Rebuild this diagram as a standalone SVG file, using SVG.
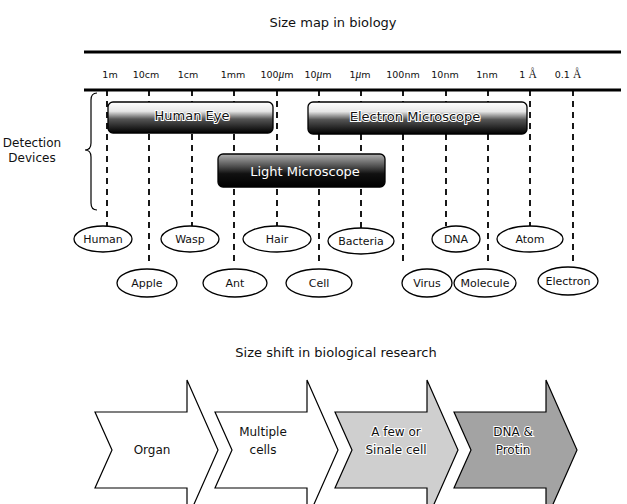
<svg xmlns="http://www.w3.org/2000/svg" width="627" height="504" viewBox="0 0 627 504">
<style>
text{font-family:"DejaVu Sans","Liberation Sans",sans-serif;fill:#111}
.title{font-size:13px;text-anchor:middle}
.scale{font-size:9.5px;text-anchor:middle}
.sym{font-family:"Liberation Serif","DejaVu Serif",serif;font-size:11.5px}
.mu{font-family:"Liberation Serif","DejaVu Serif",serif;font-style:italic;font-size:11.5px}
.axis{stroke:#000;stroke-width:3;fill:none}
.dash{stroke:#000;stroke-width:1.8;stroke-dasharray:6 5;fill:none}
.ell{fill:#fff;stroke:#000;stroke-width:1.3}
.lbl{font-size:11px;text-anchor:middle}
.box{stroke:#000;stroke-width:1.3}
.boxtxt{font-size:13px;text-anchor:middle;fill:#111;stroke:#fff;stroke-width:2;paint-order:stroke}
.boxtxtw{font-size:13px;text-anchor:middle;fill:#fff}
.arrow{stroke:#000;stroke-width:1.2}
.atxt{font-size:12px;text-anchor:middle;fill:#111;stroke:#fff;stroke-width:2;paint-order:stroke}
.side{font-size:12px;text-anchor:middle}
</style>
<defs>
<linearGradient id="gEye" x1="0" y1="0" x2="0" y2="1">
<stop offset="0" stop-color="#ffffff"/>
<stop offset="0.3" stop-color="#e6e6e6"/>
<stop offset="0.55" stop-color="#555"/>
<stop offset="1" stop-color="#000"/>
</linearGradient>
<linearGradient id="gLight" x1="0" y1="0" x2="0" y2="1">
<stop offset="0" stop-color="#b0b0b0"/>
<stop offset="0.35" stop-color="#555"/>
<stop offset="0.6" stop-color="#111"/>
<stop offset="1" stop-color="#000"/>
</linearGradient>
</defs>

<text class="title" x="333" y="27">Size map in biology</text>

<line class="axis" x1="84" y1="52" x2="621" y2="52"/>
<line class="axis" x1="84" y1="90" x2="621" y2="90"/>

<g id="scale-labels">
<text class="scale" x="110" y="78">1m</text>
<text class="scale" x="146" y="78">10cm</text>
<text class="scale" x="188" y="78">1cm</text>
<text class="scale" x="233" y="78">1mm</text>
<text class="scale" x="277" y="78">100<tspan class="mu">μ</tspan>m</text>
<text class="scale" x="318" y="78">10<tspan class="mu">μ</tspan>m</text>
<text class="scale" x="360" y="78">1<tspan class="mu">μ</tspan>m</text>
<text class="scale" x="403" y="78">100nm</text>
<text class="scale" x="445" y="78">10nm</text>
<text class="scale" x="487" y="78">1nm</text>
<text class="scale" x="528" y="78">1 <tspan class="sym">Å</tspan></text>
<text class="scale" x="568" y="78">0.1 <tspan class="sym">Å</tspan></text>
</g>

<g id="connectors">
<line class="dash" x1="107" y1="90" x2="107" y2="226"/>
<line class="dash" x1="149" y1="90" x2="149" y2="262"/>
<line class="dash" x1="192" y1="90" x2="192" y2="226"/>
<line class="dash" x1="234" y1="90" x2="234" y2="262"/>
<line class="dash" x1="277" y1="90" x2="277" y2="226"/>
<line class="dash" x1="319" y1="90" x2="319" y2="262"/>
<line class="dash" x1="361" y1="90" x2="361" y2="228"/>
<line class="dash" x1="403" y1="90" x2="403" y2="262"/>
<line class="dash" x1="446" y1="90" x2="446" y2="226"/>
<line class="dash" x1="488" y1="90" x2="488" y2="262"/>
<line class="dash" x1="530" y1="90" x2="530" y2="226"/>
<line class="dash" x1="573" y1="90" x2="573" y2="262"/>
</g>

<g id="detection-devices">
<path d="M97,93 Q91,93 91,100 L91,143 Q91,150 85,150 Q91,150 91,157 L91,203 Q91,210 97,210" fill="none" stroke="#000" stroke-width="1.2"/>
<text class="side" x="32" y="147">Detection</text>
<text class="side" x="32" y="162">Devices</text>
</g>

<g id="human-eye">
<rect class="box" x="108" y="102" width="165" height="31" rx="5" fill="url(#gEye)"/>
<text class="boxtxt" x="192" y="120">Human Eye</text>
</g>
<g id="electron-microscope">
<rect class="box" x="308" y="102" width="219" height="32" rx="5" fill="url(#gEye)"/>
<text class="boxtxt" x="415" y="121">Electron Microscope</text>
</g>
<g id="light-microscope">
<rect class="box" x="218" y="154" width="167" height="33" rx="5" fill="url(#gLight)"/>
<text class="boxtxtw" x="305" y="176">Light Microscope</text>
</g>

<g id="human"><ellipse class="ell" cx="103" cy="239" rx="29" ry="13"/><text class="lbl" x="103" y="243">Human</text></g>
<g id="wasp"><ellipse class="ell" cx="190" cy="239" rx="29" ry="13"/><text class="lbl" x="190" y="243">Wasp</text></g>
<g id="hair"><ellipse class="ell" cx="277" cy="239" rx="34" ry="13"/><text class="lbl" x="277" y="243">Hair</text></g>
<g id="bacteria"><ellipse class="ell" cx="361" cy="241" rx="33" ry="13"/><text class="lbl" x="361" y="245">Bacteria</text></g>
<g id="dna"><ellipse class="ell" cx="456" cy="239" rx="24" ry="13"/><text class="lbl" x="456" y="243">DNA</text></g>
<g id="atom"><ellipse class="ell" cx="530" cy="239" rx="33" ry="13"/><text class="lbl" x="530" y="243">Atom</text></g>
<g id="apple"><ellipse class="ell" cx="147" cy="283" rx="30" ry="14"/><text class="lbl" x="147" y="287">Apple</text></g>
<g id="ant"><ellipse class="ell" cx="235" cy="283" rx="32" ry="14"/><text class="lbl" x="235" y="287">Ant</text></g>
<g id="cell"><ellipse class="ell" cx="319" cy="283" rx="33" ry="14"/><text class="lbl" x="319" y="287">Cell</text></g>
<g id="virus"><ellipse class="ell" cx="427" cy="283" rx="25" ry="14"/><text class="lbl" x="427" y="287">Virus</text></g>
<g id="molecule"><ellipse class="ell" cx="485" cy="283" rx="31" ry="14"/><text class="lbl" x="485" y="287">Molecule</text></g>
<g id="electron"><ellipse class="ell" cx="568" cy="281" rx="30" ry="14"/><text class="lbl" x="568" y="285">Electron</text></g>

<text class="title" x="336" y="357">Size shift in biological research</text>

<g id="organ">
<path class="arrow" fill="#fff" d="M95,412 L187,412 L187,380 L218,450 L187,520 L187,488 L95,488 L112,450 Z"/>
<text class="atxt" x="152" y="454">Organ</text>
</g>
<g id="multiple-cells">
<path class="arrow" fill="#fff" d="M215,412 L307,412 L307,380 L338,450 L307,520 L307,488 L215,488 L232,450 Z"/>
<text class="atxt" x="263" y="436">Multiple</text>
<text class="atxt" x="263" y="454">cells</text>
</g>
<g id="single-cell">
<path class="arrow" fill="#cfcfcf" d="M335,412 L427,412 L427,380 L458,450 L427,520 L427,488 L335,488 L352,450 Z"/>
<text class="atxt" x="396" y="436">A few or</text>
<text class="atxt" x="396" y="454">Sinale cell</text>
</g>
<g id="dna-protin">
<path class="arrow" fill="#a3a3a3" d="M454,412 L546,412 L546,380 L577,450 L546,520 L546,488 L454,488 L471,450 Z"/>
<text class="atxt" x="513" y="436">DNA &amp;</text>
<text class="atxt" x="513" y="454">Protin</text>
</g>
</svg>
